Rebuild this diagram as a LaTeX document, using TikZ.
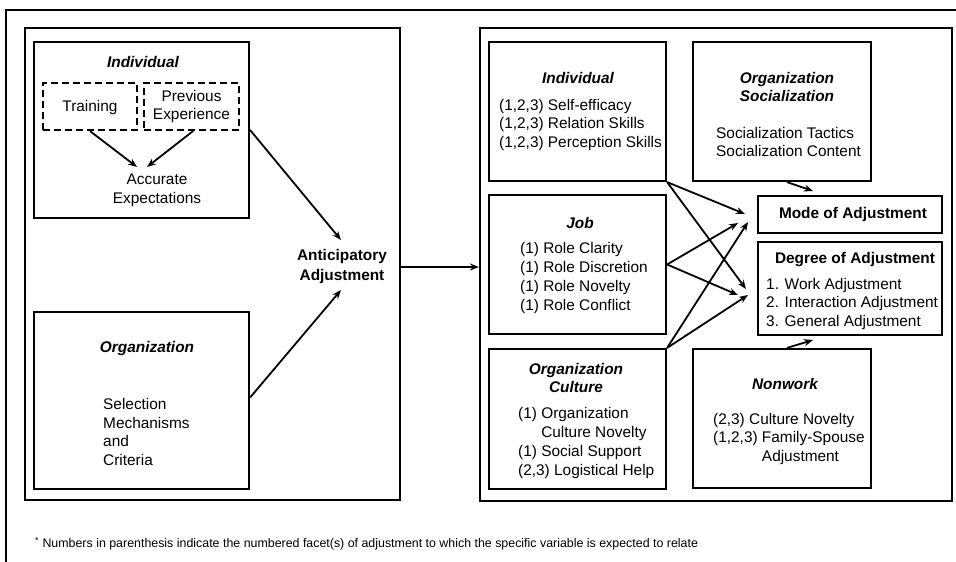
\documentclass[tikz,border=0pt]{standalone}
\usepackage{fontspec}
\setmainfont{Liberation Sans}
\usetikzlibrary{arrows.meta}
\begin{document}
\begin{tikzpicture}[x=1pt,y=-1pt,
  box/.style={draw,line width=2.2pt,rectangle,inner sep=0pt},
  dbox/.style={box,dash pattern=on 7pt off 4pt},
  txt/.style={inner sep=0pt,font=\fontsize{15.4}{18.8}\selectfont,align=center},
  lst/.style={txt,align=left,anchor=west},
  ttl/.style={txt,font=\fontsize{15.4}{18}\selectfont\bfseries\itshape},
  bld/.style={txt,font=\fontsize{15.4}{20}\selectfont\bfseries},
  arr/.style={line width=1.8pt,-{Stealth[length=9pt,width=7pt]}}]
\useasboundingbox (0,0) rectangle (956,562);
\fill[white] (0,0) rectangle (956,562);
% outer frame
\draw[line width=2.2pt] (6,600) -- (6,10) -- (1000,10);

% ---- left panel ----
\node[box,minimum width=375pt,minimum height=472pt] (leftbig) at (212.5,264) {};
\node[box,minimum width=215pt,minimum height=176pt] (indL) at (141.5,130) {};
\node[dbox,minimum width=94pt,minimum height=47pt] (train) at (90,106.5) {};
\node[dbox,minimum width=95pt,minimum height=47pt] (prev) at (191.5,106.5) {};
\node[box,minimum width=215pt,minimum height=177pt] (orgL) at (141.5,400.5) {};

\node[ttl] (indLt) at (143,62) {Individual};
\node[txt] (traint) at (90,108) {Training};
\node[txt] (prevt) at (191.5,106.5) {Previous\\Experience};
\node[txt] (acc) at (157,190) {Accurate\\Expectations};
\node[bld] (ant) at (342,267) {Anticipatory\\Adjustment};
\node[ttl] (orgLt) at (147,349) {Organization};
\node[lst] (sel) at (103,432) {Selection\\Mechanisms\\and\\Criteria};

\coordinate (acc1) at (137,167);
\coordinate (acc2) at (147,167);
\coordinate (ant1) at (341,240);
\coordinate (ant2) at (341,290);
\draw[arr] (train.south) -- (acc1);
\draw[arr] ([xshift=1.5pt]prev.south) -- (acc2);
\draw[arr] (indL.east) -- (ant1);
\draw[arr] ([yshift=3pt]orgL.east) -- (ant2);

% ---- right panel ----
\node[box,minimum width=472pt,minimum height=473pt] (rightbig) at (716,264.5) {};
\draw[arr] (leftbig.east |- ant.center) -- (rightbig.west |- ant.center);

\node[box,minimum width=177pt,minimum height=139pt] (indR) at (577.5,111.5) {};
\node[box,minimum width=178pt,minimum height=139pt] (orgsoc) at (782,111.5) {};
\node[box,minimum width=184pt,minimum height=37pt] (mode) at (850,214.5) {};
\node[box,minimum width=184pt,minimum height=93pt] (degree) at (850,288.5) {};
\node[box,minimum width=177pt,minimum height=139pt] (job) at (577.5,264.5) {};
\node[box,minimum width=177pt,minimum height=140pt] (culture) at (577.5,419) {};
\node[box,minimum width=178pt,minimum height=139pt] (nonwork) at (782,418.5) {};

\node[ttl] (indRt) at (578,78) {Individual};
\node[lst] (indRl) at (499,125) {(1,2,3) Self-efficacy\\(1,2,3) Relation Skills\\(1,2,3) Perception Skills};
\node[ttl] (orgsoct) at (787,87) {Organization\\Socialization};
\node[lst] (orgsocl) at (716,142) {Socialization Tactics\\Socialization Content};
\node[bld] (modet) at (853,215) {Mode of Adjustment};
\node[bld] (degreet) at (855,260) {Degree of Adjustment};
\node[lst] (degreel) at (766,304) {1. Work Adjustment\\2. Interaction Adjustment\\3. General Adjustment};
\node[ttl] (jobt) at (580,223) {Job};
\node[lst] (jobl) at (520,278) {(1) Role Clarity\\(1) Role Discretion\\(1) Role Novelty\\(1) Role Conflict};
\node[ttl] (culturet) at (576,377.5) {Organization\\Culture};
\node[lst] (culturel) at (518,443) {(1) Organization\\\phantom{(1) }Culture Novelty\\(1) Social Support\\(2,3) Logistical Help};
\node[ttl] (nonworkt) at (785,384) {Nonwork};
\node[lst] (nonworkl) at (713,439) {(2,3) Culture Novelty\\(1,2,3) Family-Spouse\\\phantom{(1,2,3) }Adjustment};

\coordinate (m1) at (745,214);
\coordinate (m2) at (738,223);
\coordinate (m3) at (748,222);
\coordinate (d1) at (746,289);
\coordinate (d2) at (738,295);
\coordinate (d3) at (748,295);
\coordinate (mtop) at (813,191);
\coordinate (dbot) at (813,340);
\draw[arr] (indR.south east) -- (m1);
\draw[arr] (indR.south east) -- (d1);
\draw[arr] (job.east) -- (m2);
\draw[arr] (job.east) -- (d2);
\draw[arr] (culture.north east) -- (m3);
\draw[arr] (culture.north east) -- (d3);
\draw[arr] ([xshift=5pt]orgsoc.south) -- (mtop);
\draw[arr] ([xshift=5pt]nonwork.north) -- (dbot);

% footnote
\node[inner sep=0pt,anchor=west,font=\fontsize{12.4}{14}\selectfont] (note) at (35,544)
  {\textsuperscript{*} Numbers in parenthesis indicate the numbered facet(s) of adjustment to which the specific variable is expected to relate};
\end{tikzpicture}
\end{document}
